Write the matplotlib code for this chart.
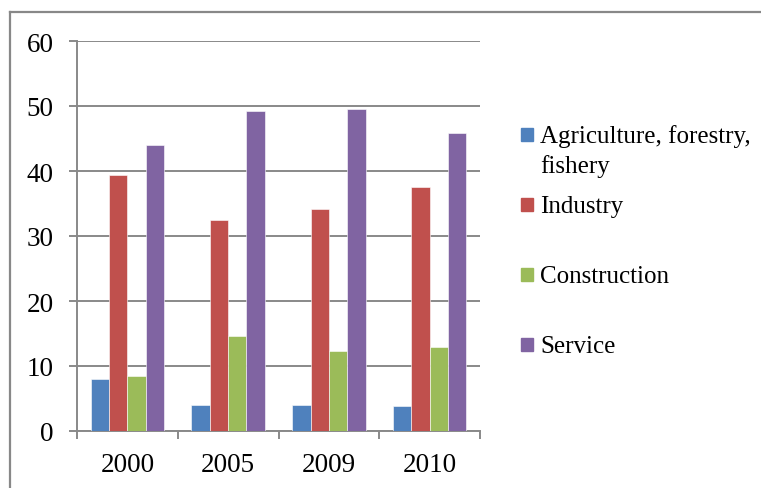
import matplotlib
matplotlib.use("Agg")
import matplotlib.pyplot as plt
from matplotlib.patches import Rectangle
from matplotlib.lines import Line2D
import numpy as np

years = ["2000", "2005", "2009", "2010"]
series_names = ["Agriculture, forestry,\nfishery", "Industry", "Construction", "Service"]
agriculture = [8.0, 4.0, 4.0, 3.8]
industry = [39.4, 32.4, 34.2, 37.6]
construction = [8.4, 14.6, 12.3, 12.9]
service = [44.0, 49.2, 49.5, 45.9]
colors = ["#4F81BD", "#C0504D", "#9BBB59", "#8064A2"]
yticks = [0, 10, 20, 30, 40, 50, 60]

W, H = 761, 489
plt.rcParams['font.family'] = ['Liberation Serif', 'DejaVu Serif']
fig = plt.figure(figsize=(W / 100, H / 100), dpi=100)

def fx(px):
    return px / W

def fy(py):
    return 1 - py / H

ax = fig.add_axes([fx(77), fy(432), (480 - 77) / W, (432 - 42) / H])

grid_c = "#898989"
values = [agriculture, industry, construction, service]
n = len(values)
bw = 1 / 5.5
x = np.arange(len(years))
for i, (vals, c) in enumerate(zip(values, colors)):
    offs = (i - (n - 1) / 2) * bw
    ax.bar(x + offs, vals, width=bw, color=c, edgecolor="#ffffff", linewidth=0.4, zorder=3)

ax.set_xlim(-0.5, len(years) - 0.5)
ax.set_ylim(0, 60)
ax.set_yticks(yticks)
ax.set_yticklabels([str(t) for t in yticks], fontsize=19.5)
ax.yaxis.grid(True, color=grid_c, linewidth=1.4, zorder=0)
ax.set_axisbelow(True)
ax.tick_params(axis='y', length=6, width=1.4, color=grid_c, pad=11)

ax.set_xticks(x)
ax.set_xticklabels(years, fontsize=19.5)
ax.tick_params(axis='x', which='major', length=0, pad=15)
ax.set_xticks(np.arange(-0.5, len(years) + 0.5, 1), minor=True)
ax.tick_params(axis='x', which='minor', length=6, width=1.4, color=grid_c, direction='out')

for s in ["top", "right"]:
    ax.spines[s].set_visible(False)
for s in ["left", "bottom"]:
    ax.spines[s].set_color(grid_c)
    ax.spines[s].set_linewidth(1.4)

# outer frame (partial, cropped chart area)
fig.add_artist(Line2D([fx(10), 1], [fy(13), fy(13)], color="#888888", linewidth=1.6, transform=fig.transFigure))
fig.add_artist(Line2D([fx(10), fx(10)], [fy(13), 0], color="#888888", linewidth=1.6, transform=fig.transFigure))

# legend
y0 = 135.5
step = 70
for i, (name, c) in enumerate(zip(series_names, colors)):
    yc = y0 + i * step
    fig.add_artist(Rectangle((fx(521), fy(yc + 6.5)), 12 / W, 13 / H, color=c, transform=fig.transFigure))
    for j, line in enumerate(name.split("\n")):
        fig.text(fx(540), fy(yc + 7.5 + j * 30), line, fontsize=18, va='baseline', ha='left')

fig.savefig("out.png", dpi=100)
